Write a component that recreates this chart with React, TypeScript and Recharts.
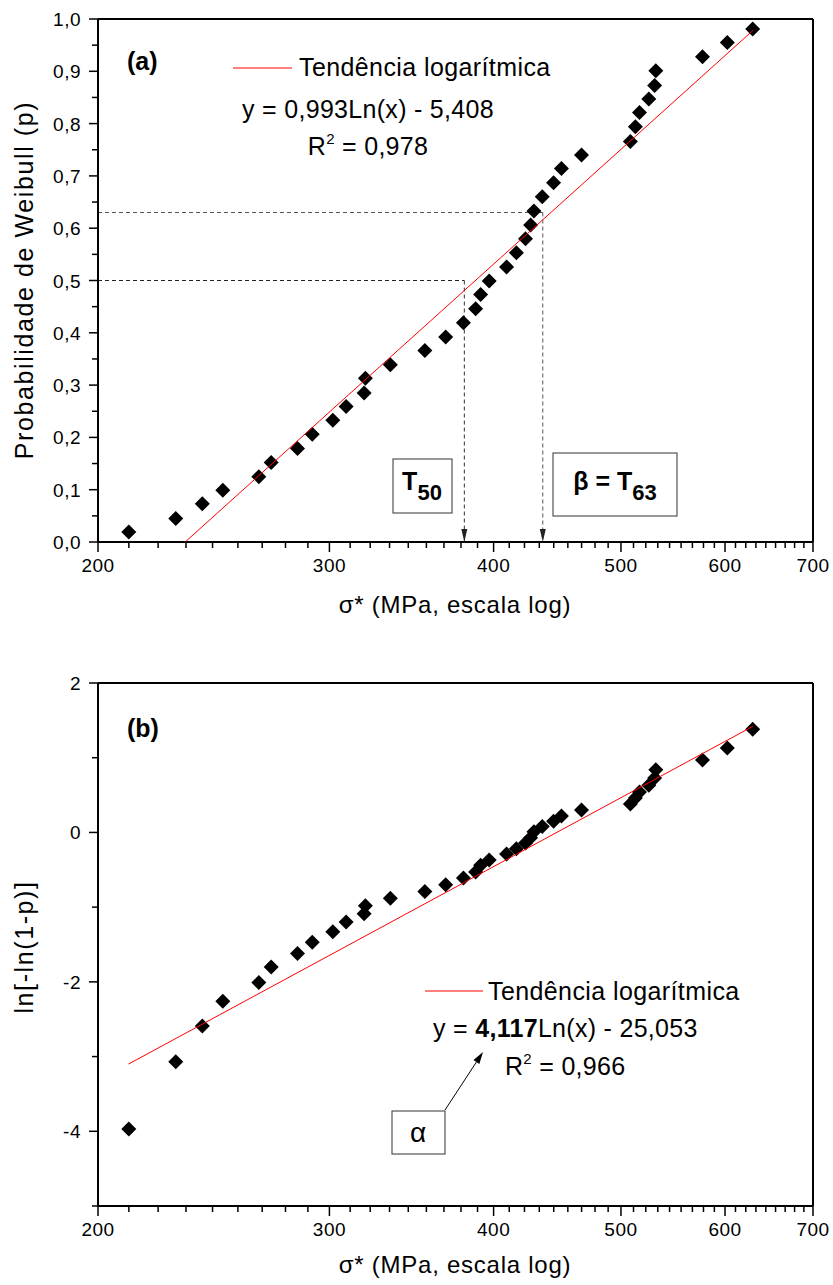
import { ScatterChart, Scatter, XAxis, YAxis, ReferenceLine, ReferenceDot } from "recharts";

// sigma* (MPa) for each specimen
const SIGMA = [
  211.1, 229.2, 240.1, 248.9, 265.1, 270.9, 283.7, 291.1, 301.8, 308.9,
  318.8, 319.5, 333.8, 354.6, 367.8, 379.4, 387.6, 391.0, 396.9, 409.2,
  416.3, 423.0, 426.8, 429.3, 435.6, 444.3, 450.5, 466.6, 508.3, 512.8,
  516.5, 525.0, 530.4, 531.5, 576.8, 602.4, 629.8,
];
// Weibull probability p (panel a)
const PROB = [
  0.019, 0.045, 0.073, 0.099, 0.125, 0.152, 0.179, 0.206, 0.233, 0.259,
  0.285, 0.313, 0.339, 0.366, 0.392, 0.419, 0.446, 0.473, 0.499, 0.526,
  0.553, 0.580, 0.606, 0.633, 0.660, 0.687, 0.714, 0.740, 0.766, 0.794,
  0.821, 0.847, 0.873, 0.901, 0.928, 0.955, 0.981,
];
// ln[-ln(1-p)] (panel b)
const LNLN = [
  -3.97, -3.07, -2.59, -2.26, -2.01, -1.80, -1.62, -1.47, -1.33, -1.20,
  -1.09, -0.98, -0.88, -0.79, -0.70, -0.61, -0.53, -0.44, -0.37, -0.29,
  -0.22, -0.14, -0.07, 0.01, 0.08, 0.15, 0.22, 0.30, 0.38, 0.46,
  0.54, 0.63, 0.73, 0.84, 0.97, 1.13, 1.38,
];
// fitted trend lines (end points as drawn)
const TREND_A_X = [233, 630];
const TREND_A_Y = [0, 0.978];
const TREND_B_X = [211, 630];
const TREND_B_Y = [-3.1, 1.42];

const T50 = 380;
const T63 = 436;
const P50 = 0.5;
const P63 = 0.63;

const X_MAJOR = [200, 300, 400, 500, 600, 700];
const X_MINOR = X_MAJOR.slice(0, -1).flatMap((v, i) =>
  Array.from({ length: 8 }, (_, k) => v + ((X_MAJOR[i + 1] - v) * (k + 1)) / 9)
);
const X_TICKS = [...X_MAJOR, ...X_MINOR].sort((a, b) => a - b);

const YA_MAJOR = [0, 0.1, 0.2, 0.3, 0.4, 0.5, 0.6, 0.7, 0.8, 0.9, 1.0];
const YA_LABELS = ["0,0", "0,1", "0,2", "0,3", "0,4", "0,5", "0,6", "0,7", "0,8", "0,9", "1,0"];
const YA_MINOR = [0.05, 0.15, 0.25, 0.35, 0.45, 0.55, 0.65, 0.75, 0.85, 0.95];
const YA_TICKS = [...YA_MAJOR, ...YA_MINOR].sort((a, b) => a - b);

const YB_MAJOR = [-4, -2, 0, 2];
const YB_LABELS = ["-4", "-2", "0", "2"];
const YB_MINOR = [-5, -3, -1, 1];
const YB_TICKS = [...YB_MAJOR, ...YB_MINOR].sort((a, b) => a - b);

const pointsA = SIGMA.map((x, i) => ({ x, y: PROB[i] }));
const pointsB = SIGMA.map((x, i) => ({ x, y: LNLN[i] }));
const trendA = TREND_A_X.map((x, i) => ({ x, y: TREND_A_Y[i] }));
const trendB = TREND_B_X.map((x, i) => ({ x, y: TREND_B_Y[i] }));

const FONT = '"Liberation Sans", Arial, sans-serif';
const AXIS = { stroke: "#000", strokeWidth: 2 };

function XTick({ x, y, payload }: any) {
  const major = X_MAJOR.includes(payload.value);
  return (
    <g>
      <line x1={x} x2={x} y1={y} y2={y + (major ? 10 : 6)} stroke="#000" strokeWidth={1.5} />
      {major && (
        <text x={x} y={y + 30} textAnchor="middle" fontSize={19} letterSpacing={0.5} fontFamily={FONT} fill="#000">
          {payload.value}
        </text>
      )}
    </g>
  );
}

function makeYTick(major: number[], labels: string[]) {
  return function YTick({ x, y, payload }: any) {
    const idx = major.findIndex((m) => Math.abs(m - payload.value) < 1e-9);
    return (
      <g>
        <line x1={x} x2={x - (idx >= 0 ? 9 : 6)} y1={y} y2={y} stroke="#000" strokeWidth={1.5} />
        {idx >= 0 && (
          <text x={x - 17} y={y + 7} textAnchor="end" fontSize={19} letterSpacing={0.5} fontFamily={FONT} fill="#000">
            {labels[idx]}
          </text>
        )}
      </g>
    );
  };
}
const YTickA = makeYTick(YA_MAJOR, YA_LABELS);
const YTickB = makeYTick(YB_MAJOR, YB_LABELS);

function Diamond({ cx, cy }: any) {
  const r = 7.5;
  return <polygon points={`${cx},${cy - r} ${cx + r},${cy} ${cx},${cy + r} ${cx - r},${cy}`} fill="#000" />;
}

const Empty = () => <g />;

function ArrowDown({ cx, cy }: any) {
  return <polygon points={`${cx - 3},${cy - 13} ${cx + 3},${cy - 13} ${cx},${cy}`} fill="#222" />;
}

function Overlay() {
  const t = { fontFamily: FONT, fill: "#000" };
  // alpha arrow
  const ax1 = 445, ay1 = 1110, ax2 = 483, ay2 = 1052;
  const len = Math.hypot(ax2 - ax1, ay2 - ay1);
  const ux = (ax2 - ax1) / len, uy = (ay2 - ay1) / len;
  const bx = ax2 - ux * 12, by = ay2 - uy * 12;
  const head = `${ax2},${ay2} ${bx - uy * 3.5},${by + ux * 3.5} ${bx + uy * 3.5},${by - ux * 3.5}`;
  return (
    <svg width={833} height={1285} style={{ position: "absolute", left: 0, top: 0, pointerEvents: "none" }}>
      {/* panel a */}
      <text x={127} y={70} fontSize={25} fontWeight="bold" {...t}>(a)</text>
      <line x1={233} x2={292} y1={68} y2={68} stroke="#ff0000" strokeWidth={1} />
      <text x={299} y={76} fontSize={25} letterSpacing={0.4} {...t}>Tendência logarítmica</text>
      <text x={368} y={118} fontSize={25} letterSpacing={0.3} textAnchor="middle" {...t}>y = 0,993Ln(x) - 5,408</text>
      <text x={368} y={155} fontSize={25} letterSpacing={0.3} textAnchor="middle" {...t}>
        R<tspan fontSize={15} dy={-11}>2</tspan><tspan dy={11}> = 0,978</tspan>
      </text>
      <rect x={393} y={459} width={59} height={54} fill="#fff" stroke="#333" strokeWidth={1} />
      <text x={422} y={490} fontSize={25} fontWeight="bold" textAnchor="middle" {...t}>
        T<tspan fontSize={22} dy={10}>50</tspan>
      </text>
      <rect x={553} y={453} width={124} height={63} fill="#fff" stroke="#333" strokeWidth={1} />
      <text x={615} y={490} fontSize={25} fontWeight="bold" textAnchor="middle" {...t}>
        β = T<tspan fontSize={22} dy={10}>63</tspan>
      </text>
      <text x={455} y={613} fontSize={24} letterSpacing={0.75} textAnchor="middle" {...t}>σ* (MPa, escala log)</text>
      <text transform="translate(33,280) rotate(-90)" fontSize={25} letterSpacing={1.6} textAnchor="middle" {...t}>
        Probabilidade de Weibull (p)
      </text>

      {/* panel b */}
      <text x={127} y={737} fontSize={25} fontWeight="bold" {...t}>(b)</text>
      <line x1={425} x2={483} y1={991} y2={991} stroke="#ff0000" strokeWidth={1} />
      <text x={488} y={1000} fontSize={25} letterSpacing={0.4} {...t}>Tendência logarítmica</text>
      <text x={433} y={1037} fontSize={25} letterSpacing={0.3} {...t}>
        y = <tspan fontWeight="bold">4,117</tspan>Ln(x) - 25,053
      </text>
      <text x={505} y={1075} fontSize={25} letterSpacing={0.3} {...t}>
        R<tspan fontSize={15} dy={-11}>2</tspan><tspan dy={11}> = 0,966</tspan>
      </text>
      <rect x={392} y={1111} width={53} height={43} fill="#fff" stroke="#333" strokeWidth={1} />
      <text x={418} y={1142} fontSize={28} textAnchor="middle" {...t}>α</text>
      <line x1={ax1} y1={ay1} x2={bx} y2={by} stroke="#000" strokeWidth={1} />
      <polygon points={head} fill="#000" />
      <text x={455} y={1273} fontSize={24} letterSpacing={0.75} textAnchor="middle" {...t}>σ* (MPa, escala log)</text>
      <text transform="translate(33,947) rotate(-90)" fontSize={25} letterSpacing={1.6} textAnchor="middle" {...t}>
        ln[-ln(1-p)]
      </text>
    </svg>
  );
}

export default function App() {
  return (
    <div style={{ position: "absolute", left: 0, top: 0, width: 833, height: 1285, background: "#fff" }}>
      <div style={{ position: "absolute", left: 0, top: 0 }}>
        <ScatterChart width={833} height={640} margin={{ top: 19, right: 20, bottom: 0, left: 0 }}>
          <XAxis dataKey="x" type="number" scale="log" domain={[200, 700]} ticks={X_TICKS} interval={0}
            tick={<XTick />} tickLine={false} tickSize={0} tickMargin={0} height={98} axisLine={AXIS} allowDataOverflow />
          <YAxis dataKey="y" type="number" domain={[0, 1]} ticks={YA_TICKS} interval={0}
            tick={<YTickA />} tickLine={false} tickSize={0} tickMargin={0} width={98} axisLine={AXIS} allowDataOverflow />
          <ReferenceLine y={1} stroke="#000" strokeWidth={2} />
          <ReferenceLine x={700} stroke="#000" strokeWidth={2} />
          <ReferenceLine segment={[{ x: 200, y: P63 }, { x: T63, y: P63 }]} stroke="#555" strokeDasharray="4 3" />
          <ReferenceLine segment={[{ x: 200, y: P50 }, { x: T50, y: P50 }]} stroke="#222" strokeDasharray="4 3" />
          <ReferenceLine segment={[{ x: T63, y: P63 }, { x: T63, y: 0 }]} stroke="#555" strokeDasharray="4 3" />
          <ReferenceLine segment={[{ x: T50, y: P50 }, { x: T50, y: 0 }]} stroke="#333" strokeDasharray="4 3" />
          <ReferenceDot x={T50} y={0} shape={ArrowDown} />
          <ReferenceDot x={T63} y={0} shape={ArrowDown} />
          <Scatter data={pointsA} shape={Diamond} isAnimationActive={false} />
          <Scatter data={trendA} shape={Empty} line={{ stroke: "#ff0000", strokeWidth: 1 }} isAnimationActive={false} />
        </ScatterChart>
      </div>
      <div style={{ position: "absolute", left: 0, top: 640 }}>
        <ScatterChart width={833} height={645} margin={{ top: 43, right: 20, bottom: 0, left: 0 }}>
          <XAxis dataKey="x" type="number" scale="log" domain={[200, 700]} ticks={X_TICKS} interval={0}
            tick={<XTick />} tickLine={false} tickSize={0} tickMargin={0} height={79} axisLine={AXIS} allowDataOverflow />
          <YAxis dataKey="y" type="number" domain={[-5, 2]} ticks={YB_TICKS} interval={0}
            tick={<YTickB />} tickLine={false} tickSize={0} tickMargin={0} width={98} axisLine={AXIS} allowDataOverflow />
          <ReferenceLine y={2} stroke="#000" strokeWidth={2} />
          <ReferenceLine x={700} stroke="#000" strokeWidth={2} />
          <Scatter data={pointsB} shape={Diamond} isAnimationActive={false} />
          <Scatter data={trendB} shape={Empty} line={{ stroke: "#ff0000", strokeWidth: 1 }} isAnimationActive={false} />
        </ScatterChart>
      </div>
      <Overlay />
    </div>
  );
}
